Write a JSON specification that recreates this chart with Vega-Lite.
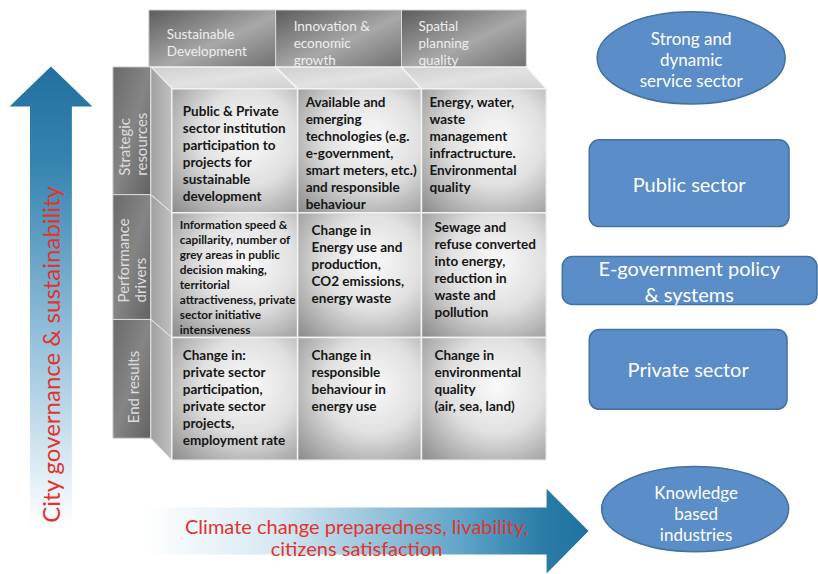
{
  "$schema": "https://vega.github.io/schema/vega-lite/v6.json",
  "width": 818,
  "height": 574,
  "autosize": {"type": "fit", "contains": "padding"},
  "padding": 0,
  "background": "white",
  "config": {"view": {"stroke": null}, "font": "Lato"},
  "datasets": {
    "arrowV": [{"label": "City governance & sustainability", "x": 51, "y": 305, "tx": 53, "ty": 355}],
    "arrowH": [{"label": "Climate change preparedness, livability,|citizens satisfaction", "x": 367, "y": 532, "tx": 357, "ty": 529}],
    "colHeads": [
      {"name": "Sustainable|Development", "x": 149, "x2": 276, "y": 10, "y2": 68, "tx": 167, "ty": 28},
      {"name": "Innovation &|economic|growth", "x": 276, "x2": 402, "y": 10, "y2": 68, "tx": 294, "ty": 20},
      {"name": "Spatial|planning|quality", "x": 402, "x2": 527, "y": 10, "y2": 68, "tx": 419, "ty": 20}
    ],
    "rowHeads": [
      {"name": "Strategic|resources", "x": 113, "x2": 151, "y": 67, "y2": 195, "tx": 125, "ty": 176},
      {"name": "Performance|drivers", "x": 113, "x2": 151, "y": 195, "y2": 320, "tx": 124, "ty": 303},
      {"name": "End results", "x": 113, "x2": 151, "y": 320, "y2": 439, "tx": 134, "ty": 424}
    ],
    "topFace": [
      {"col": 1, "y": 67, "xl": 151, "xr": 276}, {"col": 1, "y": 89, "xl": 172, "xr": 298},
      {"col": 2, "y": 67, "xl": 276, "xr": 402}, {"col": 2, "y": 89, "xl": 298, "xr": 422},
      {"col": 3, "y": 67, "xl": 402, "xr": 527}, {"col": 3, "y": 89, "xl": 422, "xr": 547}
    ],
    "sideFace": [
      {"row": 1, "x": 151, "yt": 67, "yb": 195}, {"row": 1, "x": 172, "yt": 89, "yb": 213},
      {"row": 2, "x": 151, "yt": 195, "yb": 320}, {"row": 2, "x": 172, "yt": 213, "yb": 338},
      {"row": 3, "x": 151, "yt": 320, "yb": 439}, {"row": 3, "x": 172, "yt": 338, "yb": 461}
    ],
    "cells": [
      {"row": 1, "col": 1, "x": 172, "x2": 298, "y": 89, "y2": 213, "tx": 183, "ty": 105, "text": "Public & Private|sector institution|participation to|projects for|sustainable|development"},
      {"row": 1, "col": 2, "x": 298, "x2": 422, "y": 89, "y2": 213, "tx": 306, "ty": 96, "text": "Available and|emerging|technologies (e.g.|e-government,|smart meters, etc.)|and responsible|behaviour"},
      {"row": 1, "col": 3, "x": 422, "x2": 547, "y": 89, "y2": 213, "tx": 430, "ty": 96, "text": "Energy, water,|waste|management|infractructure.|Environmental|quality"},
      {"row": 2, "col": 1, "x": 172, "x2": 298, "y": 213, "y2": 338, "tx": 180, "ty": 220, "text": "Information speed &|capillarity, number of|grey areas in public|decision making,|territorial|attractiveness, private|sector initiative|intensiveness"},
      {"row": 2, "col": 2, "x": 298, "x2": 422, "y": 213, "y2": 338, "tx": 312, "ty": 224, "text": "Change in|Energy use and|production,|CO2 emissions,|energy waste"},
      {"row": 2, "col": 3, "x": 422, "x2": 547, "y": 213, "y2": 338, "tx": 435, "ty": 221, "text": "Sewage and|refuse converted|into energy,|reduction in|waste and|pollution"},
      {"row": 3, "col": 1, "x": 172, "x2": 298, "y": 338, "y2": 461, "tx": 183, "ty": 350, "text": "Change in:|private sector|participation,|private sector|projects,|employment rate"},
      {"row": 3, "col": 2, "x": 298, "x2": 422, "y": 338, "y2": 461, "tx": 312, "ty": 350, "text": "Change in|responsible|behaviour in|energy use"},
      {"row": 3, "col": 3, "x": 422, "x2": 547, "y": 338, "y2": 461, "tx": 435, "ty": 350, "text": "Change in|environmental|quality|(air, sea, land)"}
    ],
    "boxes": [
      {"name": "Public sector", "x": 590, "x2": 790, "y": 140, "y2": 227},
      {"name": "E-government policy & systems", "x": 563, "x2": 818, "y": 257, "y2": 305},
      {"name": "Private sector", "x": 590, "x2": 788, "y": 330, "y2": 410}
    ],
    "ellipseTop": [{"name": "Strong and dynamic service sector", "x": 692, "y": 58}],
    "ellipseBottom": [{"name": "Knowledge based industries", "x": 696, "y": 510}],
    "shapeLabels": [
      {"name": "Strong and|dynamic|service sector", "kind": "ellipse", "x": 692, "y": 40},
      {"name": "Public sector", "kind": "box", "x": 690, "y": 186},
      {"name": "E-government policy|& systems", "kind": "box", "x": 690, "y": 270},
      {"name": "Private sector", "kind": "box", "x": 689, "y": 372},
      {"name": "Knowledge|based|industries", "kind": "ellipse", "x": 697, "y": 495}
    ]
  },
  "layer": [
    {
      "data": {"name": "arrowV"},
      "mark": {"type": "point", "filled": true, "opacity": 1, "strokeWidth": 0, "size": 226576,
        "shape": "M0,-1L0.174,-0.832L0.088,-0.832L0.088,1L-0.088,1L-0.088,-0.832L-0.174,-0.832Z",
        "fill": {"gradient": "linear", "x1": 0, "y1": 0, "x2": 0, "y2": 1,
          "stops": [{"offset": 0, "color": "#21709f"}, {"offset": 0.2, "color": "#3583b0"}, {"offset": 0.6, "color": "#9cc5de"}, {"offset": 0.97, "color": "#ffffff"}]}},
      "encoding": {
        "x": {"field": "x", "type": "quantitative", "axis": null, "scale": {"domain": [0, 818], "nice": false, "zero": false}},
        "y": {"field": "y", "type": "quantitative", "axis": null, "scale": {"domain": [0, 574], "nice": false, "zero": false, "reverse": true}}
      }
    },
    {
      "data": {"name": "arrowH"},
      "mark": {"type": "point", "filled": true, "opacity": 1, "strokeWidth": 0, "size": 197136,
        "shape": "M1,0L0.811,0.191L0.811,0.106L-1,0.106L-1,-0.106L0.811,-0.106L0.811,-0.191Z",
        "fill": {"gradient": "linear", "x1": 0, "y1": 0, "x2": 1, "y2": 0,
          "stops": [{"offset": 0, "color": "#ffffff"}, {"offset": 0.3, "color": "#d6e8f2"}, {"offset": 0.72, "color": "#5fa3c7"}, {"offset": 0.9, "color": "#2a7ba7"}, {"offset": 1, "color": "#1f72a0"}]}},
      "encoding": {
        "x": {"field": "x", "type": "quantitative", "axis": null, "scale": {"domain": [0, 818], "nice": false, "zero": false}},
        "y": {"field": "y", "type": "quantitative", "axis": null, "scale": {"domain": [0, 574], "nice": false, "zero": false, "reverse": true}}
      }
    },
    {
      "data": {"name": "colHeads"},
      "mark": {"type": "rect", "stroke": "#d8d8d8", "strokeWidth": 1,
        "fill": {"gradient": "linear", "x1": 0, "y1": 0, "x2": 1, "y2": 1,
          "stops": [{"offset": 0, "color": "#5c5c5c"}, {"offset": 0.55, "color": "#a8a8a8"}, {"offset": 1, "color": "#707070"}]}},
      "encoding": {
        "x": {"field": "x", "type": "quantitative", "axis": null, "scale": {"domain": [0, 818], "nice": false, "zero": false}},
        "x2": {"field": "x2"},
        "y": {"field": "y", "type": "quantitative", "axis": null, "scale": {"domain": [0, 574], "nice": false, "zero": false, "reverse": true}},
        "y2": {"field": "y2"}
      }
    },
    {
      "data": {"name": "rowHeads"},
      "mark": {"type": "rect", "stroke": "#d8d8d8", "strokeWidth": 1,
        "fill": {"gradient": "linear", "x1": 0, "y1": 0, "x2": 1, "y2": 1,
          "stops": [{"offset": 0, "color": "#6a6a6a"}, {"offset": 0.5, "color": "#858585"}, {"offset": 1, "color": "#626262"}]}},
      "encoding": {
        "x": {"field": "x", "type": "quantitative", "axis": null, "scale": {"domain": [0, 818], "nice": false, "zero": false}},
        "x2": {"field": "x2"},
        "y": {"field": "y", "type": "quantitative", "axis": null, "scale": {"domain": [0, 574], "nice": false, "zero": false, "reverse": true}},
        "y2": {"field": "y2"}
      }
    },
    {
      "data": {"name": "topFace"},
      "mark": {"type": "area", "orient": "horizontal", "stroke": "#f4f4f4", "strokeWidth": 1.5,
        "fill": {"gradient": "linear", "x1": 0, "y1": 0, "x2": 1, "y2": 1,
          "stops": [{"offset": 0, "color": "#cfcfcf"}, {"offset": 0.5, "color": "#e2e2e2"}, {"offset": 1, "color": "#d0d0d0"}]}},
      "encoding": {
        "y": {"field": "y", "type": "quantitative", "axis": null, "scale": {"domain": [0, 574], "nice": false, "zero": false, "reverse": true}},
        "x": {"field": "xl", "type": "quantitative", "axis": null, "stack": null, "scale": {"domain": [0, 818], "nice": false, "zero": false}},
        "x2": {"field": "xr"},
        "detail": {"field": "col", "type": "nominal"}
      }
    },
    {
      "data": {"name": "sideFace"},
      "mark": {"type": "area", "orient": "vertical", "stroke": "#e6e6e6", "strokeWidth": 1,
        "fill": {"gradient": "linear", "x1": 0, "y1": 0, "x2": 1, "y2": 0,
          "stops": [{"offset": 0, "color": "#a0a0a0"}, {"offset": 1, "color": "#c0c0c0"}]}},
      "encoding": {
        "x": {"field": "x", "type": "quantitative", "axis": null, "scale": {"domain": [0, 818], "nice": false, "zero": false}},
        "y": {"field": "yt", "type": "quantitative", "axis": null, "stack": null, "scale": {"domain": [0, 574], "nice": false, "zero": false, "reverse": true}},
        "y2": {"field": "yb"},
        "detail": {"field": "row", "type": "nominal"}
      }
    },
    {
      "data": {"name": "cells"},
      "mark": {"type": "rect", "stroke": "#f2f2f2", "strokeWidth": 1.5,
        "fill": {"gradient": "radial", "x1": 0.6, "y1": 0.4, "r1": 0, "x2": 0.6, "y2": 0.4, "r2": 0.85,
          "stops": [{"offset": 0, "color": "#fafafa"}, {"offset": 0.45, "color": "#e0e0e0"}, {"offset": 1, "color": "#888888"}]}},
      "encoding": {
        "x": {"field": "x", "type": "quantitative", "axis": null, "scale": {"domain": [0, 818], "nice": false, "zero": false}},
        "x2": {"field": "x2"},
        "y": {"field": "y", "type": "quantitative", "axis": null, "scale": {"domain": [0, 574], "nice": false, "zero": false, "reverse": true}},
        "y2": {"field": "y2"}
      }
    },
    {
      "data": {"name": "cells"},
      "transform": [{"filter": "!(datum.row == 2 && datum.col == 1)"}],
      "mark": {"type": "text", "align": "left", "baseline": "top", "lineBreak": "|", "lineHeight": 17, "fontSize": 13.5, "fontWeight": "bold", "font": "Lato", "fill": "#161616"},
      "encoding": {
        "x": {"field": "tx", "type": "quantitative", "axis": null, "scale": {"domain": [0, 818], "nice": false, "zero": false}},
        "y": {"field": "ty", "type": "quantitative", "axis": null, "scale": {"domain": [0, 574], "nice": false, "zero": false, "reverse": true}},
        "text": {"field": "text", "type": "nominal"}
      }
    },
    {
      "data": {"name": "cells"},
      "transform": [{"filter": "datum.row == 2 && datum.col == 1"}],
      "mark": {"type": "text", "align": "left", "baseline": "top", "lineBreak": "|", "lineHeight": 15, "fontSize": 11.8, "fontWeight": "bold", "font": "Lato", "fill": "#161616"},
      "encoding": {
        "x": {"field": "tx", "type": "quantitative", "axis": null, "scale": {"domain": [0, 818], "nice": false, "zero": false}},
        "y": {"field": "ty", "type": "quantitative", "axis": null, "scale": {"domain": [0, 574], "nice": false, "zero": false, "reverse": true}},
        "text": {"field": "text", "type": "nominal"}
      }
    },
    {
      "data": {"name": "colHeads"},
      "mark": {"type": "text", "align": "left", "baseline": "top", "lineBreak": "|", "lineHeight": 17, "fontSize": 13.5, "font": "Lato", "fill": "#eeeeee"},
      "encoding": {
        "x": {"field": "tx", "type": "quantitative", "axis": null, "scale": {"domain": [0, 818], "nice": false, "zero": false}},
        "y": {"field": "ty", "type": "quantitative", "axis": null, "scale": {"domain": [0, 574], "nice": false, "zero": false, "reverse": true}},
        "text": {"field": "name", "type": "nominal"}
      }
    },
    {
      "data": {"name": "rowHeads"},
      "mark": {"type": "text", "align": "left", "baseline": "middle", "angle": 270, "lineBreak": "|", "lineHeight": 17, "fontSize": 15, "font": "Lato", "fill": "#dcdcdc"},
      "encoding": {
        "x": {"field": "tx", "type": "quantitative", "axis": null, "scale": {"domain": [0, 818], "nice": false, "zero": false}},
        "y": {"field": "ty", "type": "quantitative", "axis": null, "scale": {"domain": [0, 574], "nice": false, "zero": false, "reverse": true}},
        "text": {"field": "name", "type": "nominal"}
      }
    },
    {
      "data": {"name": "boxes"},
      "mark": {"type": "rect", "cornerRadius": 10, "fill": "#5b8dc8", "stroke": "#41719c", "strokeWidth": 1.5},
      "encoding": {
        "x": {"field": "x", "type": "quantitative", "axis": null, "scale": {"domain": [0, 818], "nice": false, "zero": false}},
        "x2": {"field": "x2"},
        "y": {"field": "y", "type": "quantitative", "axis": null, "scale": {"domain": [0, 574], "nice": false, "zero": false, "reverse": true}},
        "y2": {"field": "y2"}
      }
    },
    {
      "data": {"name": "ellipseTop"},
      "mark": {"type": "point", "filled": true, "opacity": 1, "fill": "#5b8dc8", "stroke": "#41719c", "strokeWidth": 1.5, "size": 35344,
        "shape": "M-1,0A1,0.49,0,1,1,1,0A1,0.49,0,1,1,-1,0Z"},
      "encoding": {
        "x": {"field": "x", "type": "quantitative", "axis": null, "scale": {"domain": [0, 818], "nice": false, "zero": false}},
        "y": {"field": "y", "type": "quantitative", "axis": null, "scale": {"domain": [0, 574], "nice": false, "zero": false, "reverse": true}}
      }
    },
    {
      "data": {"name": "ellipseBottom"},
      "mark": {"type": "point", "filled": true, "opacity": 1, "fill": "#5b8dc8", "stroke": "#41719c", "strokeWidth": 1.5, "size": 34969,
        "shape": "M-1,0A1,0.455,0,1,1,1,0A1,0.455,0,1,1,-1,0Z"},
      "encoding": {
        "x": {"field": "x", "type": "quantitative", "axis": null, "scale": {"domain": [0, 818], "nice": false, "zero": false}},
        "y": {"field": "y", "type": "quantitative", "axis": null, "scale": {"domain": [0, 574], "nice": false, "zero": false, "reverse": true}}
      }
    },
    {
      "data": {"name": "shapeLabels"},
      "transform": [{"filter": "datum.kind == 'ellipse'"}],
      "mark": {"type": "text", "align": "center", "baseline": "middle", "lineBreak": "|", "lineHeight": 21, "fontSize": 17, "font": "Lato", "fill": "#ffffff"},
      "encoding": {
        "x": {"field": "x", "type": "quantitative", "axis": null, "scale": {"domain": [0, 818], "nice": false, "zero": false}},
        "y": {"field": "y", "type": "quantitative", "axis": null, "scale": {"domain": [0, 574], "nice": false, "zero": false, "reverse": true}},
        "text": {"field": "name", "type": "nominal"}
      }
    },
    {
      "data": {"name": "shapeLabels"},
      "transform": [{"filter": "datum.kind == 'box'"}],
      "mark": {"type": "text", "align": "center", "baseline": "middle", "lineBreak": "|", "lineHeight": 26, "fontSize": 20, "font": "Lato", "fill": "#ffffff"},
      "encoding": {
        "x": {"field": "x", "type": "quantitative", "axis": null, "scale": {"domain": [0, 818], "nice": false, "zero": false}},
        "y": {"field": "y", "type": "quantitative", "axis": null, "scale": {"domain": [0, 574], "nice": false, "zero": false, "reverse": true}},
        "text": {"field": "name", "type": "nominal"}
      }
    },
    {
      "data": {"name": "arrowV"},
      "mark": {"type": "text", "align": "center", "baseline": "middle", "angle": 270, "fontSize": 24, "font": "Lato", "fill": "#e2332d"},
      "encoding": {
        "x": {"field": "tx", "type": "quantitative", "axis": null, "scale": {"domain": [0, 818], "nice": false, "zero": false}},
        "y": {"field": "ty", "type": "quantitative", "axis": null, "scale": {"domain": [0, 574], "nice": false, "zero": false, "reverse": true}},
        "text": {"field": "label", "type": "nominal"}
      }
    },
    {
      "data": {"name": "arrowH"},
      "mark": {"type": "text", "align": "center", "baseline": "middle", "lineBreak": "|", "lineHeight": 22, "fontSize": 20, "font": "Lato", "fill": "#e2332d"},
      "encoding": {
        "x": {"field": "tx", "type": "quantitative", "axis": null, "scale": {"domain": [0, 818], "nice": false, "zero": false}},
        "y": {"field": "ty", "type": "quantitative", "axis": null, "scale": {"domain": [0, 574], "nice": false, "zero": false, "reverse": true}},
        "text": {"field": "label", "type": "nominal"}
      }
    }
  ]
}
